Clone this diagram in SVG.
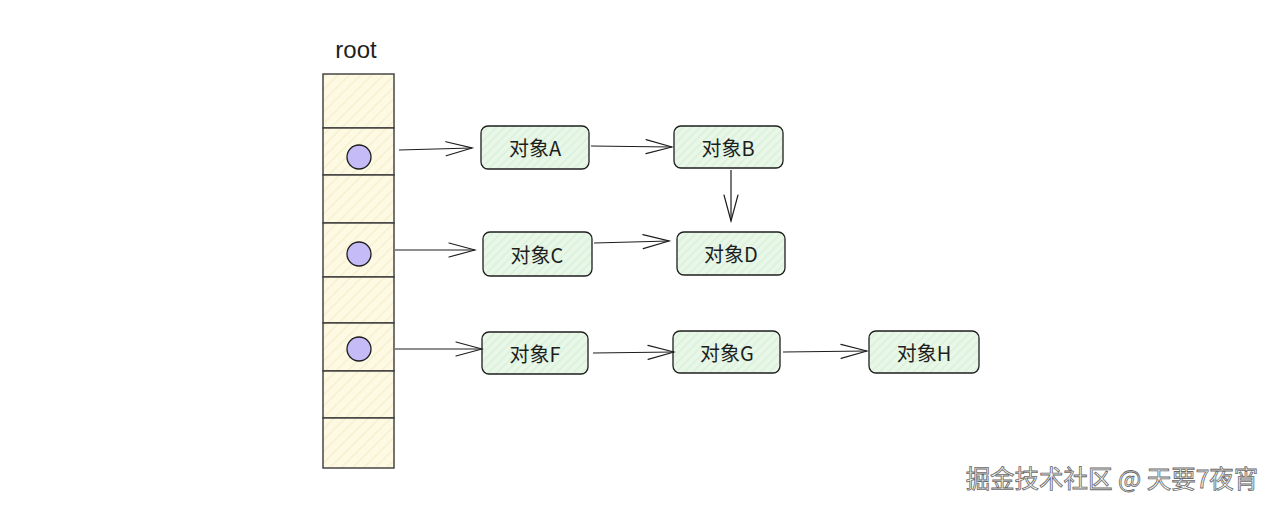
<svg xmlns="http://www.w3.org/2000/svg" width="1280" height="508" viewBox="0 0 1280 508">
<defs>
<pattern id="hy" patternUnits="userSpaceOnUse" width="8" height="8" patternTransform="rotate(-45)">
<rect width="8" height="8" fill="#fdf9e3"/>
<line x1="0" y1="4" x2="8" y2="4" stroke="#f3ecc8" stroke-width="1"/>
</pattern>
<pattern id="hg" patternUnits="userSpaceOnUse" width="6" height="6" patternTransform="rotate(-45)">
<rect width="6" height="6" fill="#e8f7e8"/>
<line x1="0" y1="3" x2="6" y2="3" stroke="#d3eed3" stroke-width="1"/>
</pattern>
<marker id="ah" markerWidth="30" markerHeight="20" refX="28" refY="10" orient="auto" markerUnits="userSpaceOnUse">
<path d="M2,3 L28,10 L2,17" fill="none" stroke="#1e1e1e" stroke-width="1.2" stroke-linecap="round"/>
</marker>
</defs>
<style>
.box{fill:url(#hg);stroke:#1e1e1e;stroke-width:1.3}
.lbl{font-family:"Noto Sans CJK SC","Liberation Sans",sans-serif;font-size:20px;fill:#1e1e1e;text-anchor:middle;dominant-baseline:central}
.cell{fill:url(#hy);stroke:#3a3a3a;stroke-width:1.4}
.dot{fill:#c5bcf7;stroke:#1e1e1e;stroke-width:1.3}
.edge{fill:none;stroke:#1e1e1e;stroke-width:1.2;marker-end:url(#ah)}
</style>
<rect width="1280" height="508" fill="#ffffff"/>
<text x="356" y="49" class="lbl" style="font-family:'Liberation Sans',sans-serif;font-size:24px">root</text>
<g id="root">
<rect class="cell" x="323" y="74" width="71" height="54"/>
<rect class="cell" x="323" y="128" width="71" height="47"/>
<rect class="cell" x="323" y="175" width="71" height="48"/>
<rect class="cell" x="323" y="223" width="71" height="54"/>
<rect class="cell" x="323" y="277" width="71" height="46"/>
<rect class="cell" x="323" y="323" width="71" height="48"/>
<rect class="cell" x="323" y="371" width="71" height="47"/>
<rect class="cell" x="323" y="418" width="71" height="50"/>
<circle class="dot" cx="359" cy="157" r="12"/>
<circle class="dot" cx="359" cy="254" r="12"/>
<circle class="dot" cx="359" cy="349" r="12"/>
</g>
<g id="nodeA"><rect class="box" x="481" y="126" width="108" height="43" rx="7"/><text class="lbl" x="535" y="147">对象A</text></g>
<g id="nodeB"><rect class="box" x="674" y="126" width="109" height="42" rx="7"/><text class="lbl" x="728" y="147">对象B</text></g>
<g id="nodeC"><rect class="box" x="483" y="232" width="109" height="44" rx="7"/><text class="lbl" x="537" y="254">对象C</text></g>
<g id="nodeD"><rect class="box" x="677" y="232" width="108" height="43" rx="7"/><text class="lbl" x="731" y="253">对象D</text></g>
<g id="nodeF"><rect class="box" x="482" y="332" width="106" height="42" rx="7"/><text class="lbl" x="535" y="353">对象F</text></g>
<g id="nodeG"><rect class="box" x="673" y="331" width="107" height="42" rx="7"/><text class="lbl" x="727" y="352">对象G</text></g>
<g id="nodeH"><rect class="box" x="869" y="331" width="110" height="42" rx="7"/><text class="lbl" x="924" y="352">对象H</text></g>
<g id="connectors">
<path class="edge" d="M399,150 L472,148"/>
<path class="edge" d="M591,146 L672,147"/>
<path class="edge" d="M731,170 L731,221"/>
<path class="edge" d="M395,250 L475,250"/>
<path class="edge" d="M594,243 L669,241"/>
<path class="edge" d="M395,349 L482,349"/>
<path class="edge" d="M593,353 L674,352"/>
<path class="edge" d="M783,352 L867,351"/>
</g>
<text x="1112" y="477" style="font-family:'Noto Sans CJK SC','Liberation Sans',sans-serif;font-size:24.5px;fill:#f4f4f4;stroke:#6a6a6a;stroke-width:0.8;text-anchor:middle;dominant-baseline:central">掘金技术社区 @ 天要7夜宵</text>
</svg>
